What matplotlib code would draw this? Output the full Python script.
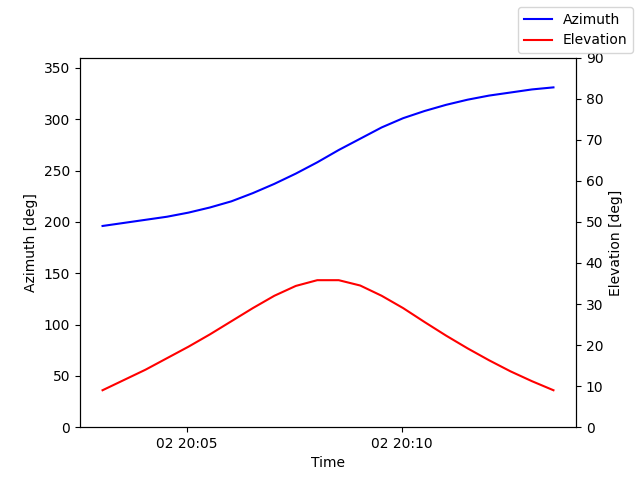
import matplotlib
matplotlib.use("Agg")
import matplotlib.pyplot as plt
import matplotlib.dates as mdates
import numpy as np
import datetime as dt

start = dt.datetime(2024, 1, 2, 20, 3, 2)
times = [start + dt.timedelta(seconds=30 * i) for i in range(22)]
azimuth = [196, 199, 202, 205, 209, 214, 220, 228, 237, 247, 258, 270, 281, 292,
           301, 308, 314, 319, 323, 326, 329, 331]
elevation = [9, 11.5, 14, 16.8, 19.6, 22.6, 25.8, 29, 32, 34.4, 35.8, 35.8, 34.5,
             32, 29, 25.6, 22.3, 19.2, 16.3, 13.6, 11.2, 9]

fig, ax = plt.subplots(figsize=(6.4, 4.8), dpi=100)
ax.plot(times, azimuth, color="blue", label="Azimuth")
ax.set_ylim(0, 360)
ax.set_ylabel("Azimuth [deg]")
ax.set_xlabel("Time")
ax2 = ax.twinx()
ax2.plot(times, elevation, color="red", label="Elevation")
ax2.set_ylim(0, 90)
ax2.set_ylabel("Elevation [deg]")
ax.xaxis.set_major_locator(mdates.MinuteLocator(byminute=[5, 10]))
ax.xaxis.set_major_formatter(mdates.DateFormatter("%d %H:%M"))
fig.legend(loc="upper right")
fig.subplots_adjust(left=0.125, right=0.9, top=0.88, bottom=0.11)
fig.savefig("out.png")
